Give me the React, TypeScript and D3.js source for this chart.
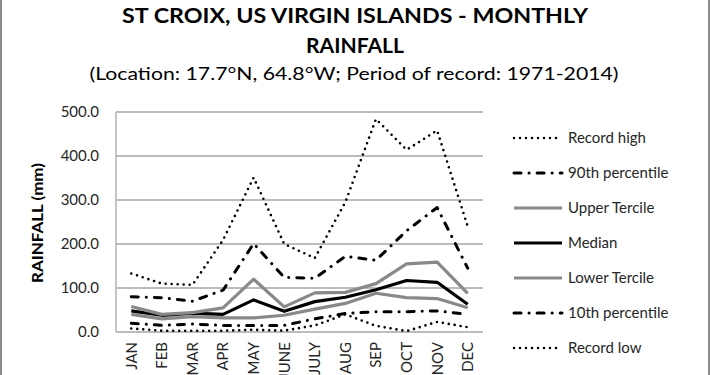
import React from 'react';
import * as d3 from 'd3';

const months = ["JAN", "FEB", "MAR", "APR", "MAY", "JUNE", "JULY", "AUG", "SEP", "OCT", "NOV", "DEC"];
const recordHigh = [133, 110, 107, 209, 351, 200, 168, 295, 484, 414, 458, 240];
const p90 = [80, 78, 70, 95, 201, 124, 122, 172, 163, 230, 283, 145];
const upperTercile = [58, 40, 44, 55, 120, 57, 89, 90, 110, 155, 159, 88];
const median = [48, 38, 43, 40, 73, 47, 69, 79, 96, 117, 113, 63];
const lowerTercile = [40, 30, 35, 32, 32, 38, 52, 65, 88, 78, 76, 55];
const p10 = [20, 15, 18, 15, 15, 15, 30, 42, 46, 46, 48, 40];
const recordLow = [8, 3, 3, 3, 5, 3, 15, 40, 14, 2, 23, 11];
const yTicks = [0, 100, 200, 300, 400, 500];

const W = 710;
const H = 375;
const margin = { left: 116, right: 227, top: 112, bottom: 43 };

const dotted = { stroke: "#000", width: 2.6, dash: "0 6", cap: "round" };
const dashDot = { stroke: "#000", width: 3, dash: "7 8 0.1 8", cap: "round" };

const series = [
  { name: "Record high", values: recordHigh, ...dotted },
  { name: "90th percentile", values: p90, ...dashDot },
  { name: "Upper Tercile", values: upperTercile, stroke: "#898989", width: 3.2, dash: "none", cap: "butt" },
  { name: "Median", values: median, stroke: "#000", width: 3.2, dash: "none", cap: "butt" },
  { name: "Lower Tercile", values: lowerTercile, stroke: "#898989", width: 3.2, dash: "none", cap: "butt" },
  { name: "10th percentile", values: p10, ...dashDot },
  { name: "Record low", values: recordLow, ...dotted },
];

const font = "Lato, 'Open Sans', sans-serif";

export default function App() {
  const x = d3.scaleBand().domain(months).range([margin.left, W - margin.right]);
  const y = d3.scaleLinear().domain([0, 500]).range([H - margin.bottom, margin.top]);
  const cx = (m: string) => (x(m) as number) + x.bandwidth() / 2;

  const line = d3.line<number>()
    .x((_, i) => cx(months[i]))
    .y(d => y(d));

  const drawOrder = [6, 5, 4, 3, 2, 1, 0];

  return (
    <svg width={W} height={H} style={{ position: 'absolute', left: 0, top: 0, background: '#fff' }}>
      <rect x={0} y={0} width={W} height={H} fill="#fff" />
      <line x1={1} x2={1} y1={0} y2={H} stroke="#8c8c8c" strokeWidth={2} />
      <line x1={709} x2={709} y1={0} y2={H} stroke="#8c8c8c" strokeWidth={2} />

      <text x={355} y={23} textAnchor="middle" fontFamily={font} fontWeight="bold" fontSize={20} fill="#000"
        textLength={466} lengthAdjust="spacingAndGlyphs">ST CROIX, US VIRGIN ISLANDS - MONTHLY</text>
      <text x={355} y={53} textAnchor="middle" fontFamily={font} fontWeight="bold" fontSize={20} fill="#000"
        textLength={98} lengthAdjust="spacingAndGlyphs">RAINFALL</text>
      <text x={354} y={80} textAnchor="middle" fontFamily={font} fontSize={17} fill="#000"
        textLength={529} lengthAdjust="spacingAndGlyphs">(Location: 17.7°N, 64.8°W; Period of record: 1971-2014)</text>

      {yTicks.map(t => (
        <g key={t}>
          {t > 0 && <line x1={margin.left} x2={W - margin.right} y1={y(t)} y2={y(t)} stroke="#a6a6a6" strokeWidth={1.3} />}
          <text x={99} y={y(t)} dy="0.35em" textAnchor="end" fontFamily={font} fontSize={15} fill="#262626">{t.toFixed(1)}</text>
        </g>
      ))}
      <line x1={margin.left} x2={margin.left} y1={margin.top} y2={y(0)} stroke="#a6a6a6" strokeWidth={1.3} />
      <line x1={margin.left} x2={W - margin.right} y1={y(0)} y2={y(0)} stroke="#a6a6a6" strokeWidth={1.3} />

      <text transform={`translate(43,223) rotate(-90)`} textAnchor="middle"
        fontFamily={font} fontWeight="bold" fontSize={15} fill="#000"
        textLength={120} lengthAdjust="spacingAndGlyphs">RAINFALL (mm)</text>

      {months.map(m => (
        <text key={m} transform={`translate(${cx(m)},342) rotate(-90)`} dy="0.36em" textAnchor="end"
          fontFamily={font} fontSize={15} fill="#262626">{m}</text>
      ))}

      {drawOrder.map(i => {
        const s = series[i];
        return (
          <path key={s.name} d={line(s.values) as string} fill="none" stroke={s.stroke}
            strokeWidth={s.width} strokeDasharray={s.dash} strokeLinecap={s.cap as any} strokeLinejoin="round" />
        );
      })}

      {series.map((s, i) => {
        const ly = 138 + i * 35;
        return (
          <g key={s.name}>
            <line x1={514} x2={562} y1={ly} y2={ly} stroke={s.stroke} strokeWidth={s.width}
              strokeDasharray={s.dash} strokeLinecap={s.cap as any} />
            <text x={568} y={ly} dy="0.35em" fontFamily={font} fontSize={15} fill="#262626">{s.name}</text>
          </g>
        );
      })}
    </svg>
  );
}
